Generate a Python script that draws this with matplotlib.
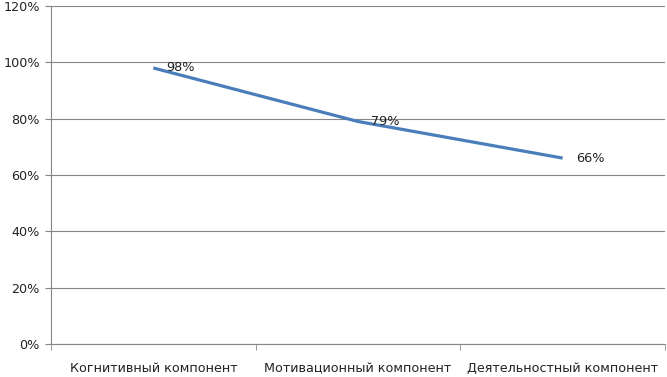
import matplotlib
matplotlib.use('Agg')
import matplotlib.pyplot as plt
from matplotlib.ticker import PercentFormatter

# данные диаграммы
categories = ['Когнитивный компонент', 'Мотивационный компонент', 'Деятельностный компонент']
values = [98, 79, 66]
yticks = [0, 20, 40, 60, 80, 100, 120]

plt.rcParams['font.family'] = ['DejaVu Sans']
fig = plt.figure(figsize=(6.67, 3.77), dpi=100)
ax = fig.add_axes([51/667, 1 - 344/377, (665 - 51)/667, (344 - 6)/377])

x = range(len(categories))
ax.plot(x, values, color='#4a7ebb', linewidth=2.3, solid_capstyle='butt')
for xi, v in zip(x, values):
  ax.annotate(f'{v}%', (xi, v), xytext=(9.5, 0), textcoords='offset points',
              va='center', ha='left', fontsize=9.3, color='#222222')

ax.set_xlim(-0.5, len(categories) - 0.5)
ax.set_ylim(0, 120)
ax.set_yticks(yticks)
ax.yaxis.set_major_formatter(PercentFormatter(decimals=0))
ax.set_xticks(list(x))
ax.set_xticklabels(categories)
ax.set_xticks([i - 0.5 for i in range(len(categories) + 1)], minor=True)
ax.tick_params(axis='x', which='major', length=0, pad=13, labelsize=9.2, labelcolor='#222222')
ax.tick_params(axis='x', which='minor', length=4, color='#868686')
ax.tick_params(axis='y', length=4, color='#868686', labelsize=9.2, labelcolor='#222222', pad=4)
ax.grid(axis='y', color='#868686', linewidth=0.8)
ax.set_axisbelow(True)
for s in ['top', 'right']:
  ax.spines[s].set_visible(False)
for s in ['left', 'bottom']:
  ax.spines[s].set_color('#868686')
  ax.spines[s].set_linewidth(0.8)

fig.savefig('out.png', dpi=100)
